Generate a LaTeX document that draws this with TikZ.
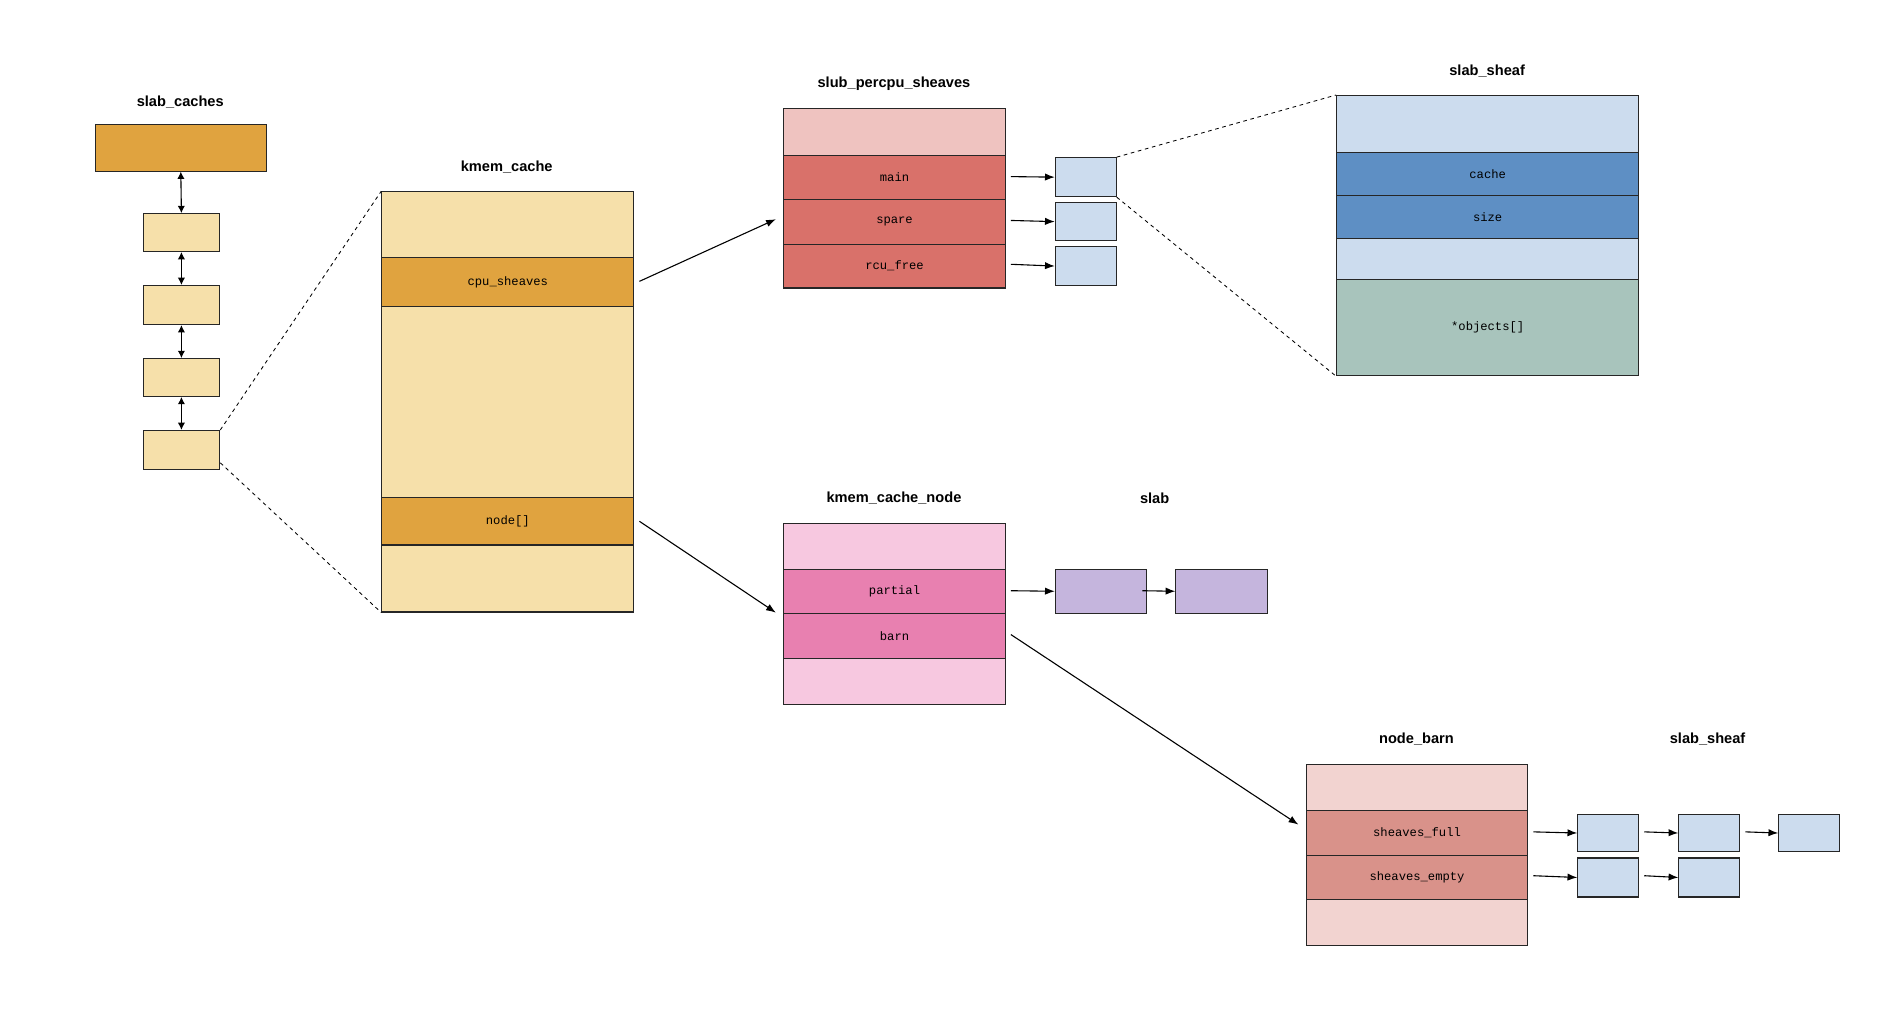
\documentclass[tikz,border=0pt]{standalone}
\usepackage{fontspec}
\setmainfont{Liberation Sans}
\newfontfamily\mono{Liberation Mono}
\usetikzlibrary{arrows.meta}
\definecolor{orng}{HTML}{E0A33F}
\definecolor{lyel}{HTML}{F6E0AA}
\definecolor{lpink}{HTML}{EFC3C0}
\definecolor{red1}{HTML}{D9716A}
\definecolor{lblue}{HTML}{CCDCEE}
\definecolor{blue1}{HTML}{5E8FC4}
\definecolor{green1}{HTML}{A8C4BC}
\definecolor{pink2}{HTML}{F7C8E0}
\definecolor{pink3}{HTML}{E880B0}
\definecolor{purp}{HTML}{C5B5DD}
\definecolor{rose}{HTML}{F2D3D0}
\definecolor{rose2}{HTML}{D9928A}
\tikzset{
 cell/.style={draw=black!85,line width=0.9pt,anchor=north west,inner sep=0pt,font=\mono\fontsize{10}{12}\selectfont},
 ttl/.style={font=\bfseries\fontsize{12}{14}\selectfont},
 arr/.style={-{Latex[length=8pt,width=6pt]},line width=0.9pt},
 darr/.style={{Latex[length=6pt,width=6pt]}-{Latex[length=6pt,width=6pt]},line width=0.9pt},
 dsh/.style={dashed,line width=0.7pt},
}
\newcommand{\cellat}[7]{\node[cell,fill=#2,minimum width=#5,minimum height=#6] (#1) at (#3,-#4) {#7};}
\begin{document}
\begin{tikzpicture}[x=1pt,y=1pt]
\useasboundingbox (0,0) rectangle (1560,-830);
% slab_caches
\node[ttl] (t1) at (148,-84) {slab\_caches};
\cellat{sc0}{orng}{78}{102}{140}{38}{}
\cellat{sc1}{lyel}{117}{175}{63}{31}{}
\cellat{sc2}{lyel}{117}{234}{63}{32}{}
\cellat{sc3}{lyel}{117}{294}{63}{31}{}
\cellat{sc4}{lyel}{117}{353}{63}{32}{}
\draw[darr] (sc0.south) -- (sc1.north);
\draw[darr] (sc1.south) -- (sc2.north);
\draw[darr] (sc2.south) -- (sc3.north);
\draw[darr] (sc3.south) -- (sc4.north);
% kmem_cache
\node[ttl] (t2) at (416,-137) {kmem\_cache};
\cellat{k1}{lyel}{313}{157}{207}{54}{}
\cellat{k2}{orng}{313}{211}{207}{40}{cpu\_sheaves}
\cellat{k3}{lyel}{313}{251}{207}{157}{}
\cellat{k4}{orng}{313}{408}{207}{39}{node[]}
\cellat{k5}{lyel}{313}{447}{207}{55}{}
\draw[dsh] (sc4.north east) -- (k1.north west);
\draw[dsh] (sc4.east |- 0,-380) -- (k5.south west);
% slub_percpu_sheaves
\node[ttl] (t3) at (734,-69) {slub\_percpu\_sheaves};
\cellat{p1}{lpink}{643}{89}{182}{38}{}
\cellat{p2}{red1}{643}{127}{182}{36}{main}
\cellat{p3}{red1}{643}{163}{182}{37}{spare}
\cellat{p4}{red1}{643}{200}{182}{36}{rcu\_free}
\coordinate (a1s) at (525,-231); \coordinate (a1e) at (637,-180);
\draw[arr] (a1s) -- (a1e);
\cellat{b1}{lblue}{866}{129}{50}{32}{}
\cellat{b2}{lblue}{866}{166}{50}{31}{}
\cellat{b3}{lblue}{866}{202}{50}{32}{}
\draw[arr] (830,-145) -- (b1.west);
\draw[arr] (830,-181) -- (b2.west);
\draw[arr] (830,-217) -- (b3.west);
% slab_sheaf
\node[ttl] (t4) at (1221,-58) {slab\_sheaf};
\cellat{s1}{lblue}{1097}{78}{248}{47}{}
\cellat{s2}{blue1}{1097}{125}{248}{35}{cache}
\cellat{s3}{blue1}{1097}{160}{248}{35}{size}
\cellat{s4}{lblue}{1097}{195}{248}{34}{}
\cellat{s5}{green1}{1097}{229}{248}{79}{*objects[]}
\draw[dsh] (b1.north east) -- (s1.north west);
\draw[dsh] (b1.south east) -- (s5.south west);
% kmem_cache_node
\node[ttl] (t5) at (734,-409) {kmem\_cache\_node};
\cellat{n1}{pink2}{643}{429}{182}{38}{}
\cellat{n2}{pink3}{643}{467}{182}{36}{partial}
\cellat{n3}{pink3}{643}{503}{182}{37}{barn}
\cellat{n4}{pink2}{643}{540}{182}{38}{}
\draw[arr] (525,-428) -- (637,-503);
\node[ttl] (t6) at (948,-409) {slab};
\cellat{sl1}{purp}{866}{467}{75}{36}{}
\cellat{sl2}{purp}{965}{467}{75}{36}{}
\draw[arr] (830,-485) -- (sl1.west);
\draw[arr] (938,-485) -- (sl2.west);
% node_barn
\node[ttl] (t7) at (1163,-607) {node\_barn};
\cellat{r1}{rose}{1072}{627}{182}{38}{}
\cellat{r2}{rose2}{1072}{665}{182}{37}{sheaves\_full}
\cellat{r3}{rose2}{1072}{702}{182}{36}{sheaves\_empty}
\cellat{r4}{rose}{1072}{738}{182}{38}{}
\draw[arr] (830,-521) -- (1066,-677);
\node[ttl] (t8) at (1402,-607) {slab\_sheaf};
\cellat{f1}{lblue}{1295}{668}{50}{31}{}
\cellat{f2}{lblue}{1378}{668}{50}{31}{}
\cellat{f3}{lblue}{1460}{668}{50}{31}{}
\cellat{e1}{lblue}{1295}{704}{50}{32}{}
\cellat{e2}{lblue}{1378}{704}{50}{32}{}
\draw[arr] (1259,-683) -- (f1.west);
\draw[arr] (1350,-683) -- (f2.west);
\draw[arr] (1433,-683) -- (f3.west);
\draw[arr] (1259,-719) -- (e1.west);
\draw[arr] (1350,-719) -- (e2.west);
\end{tikzpicture}
\end{document}
